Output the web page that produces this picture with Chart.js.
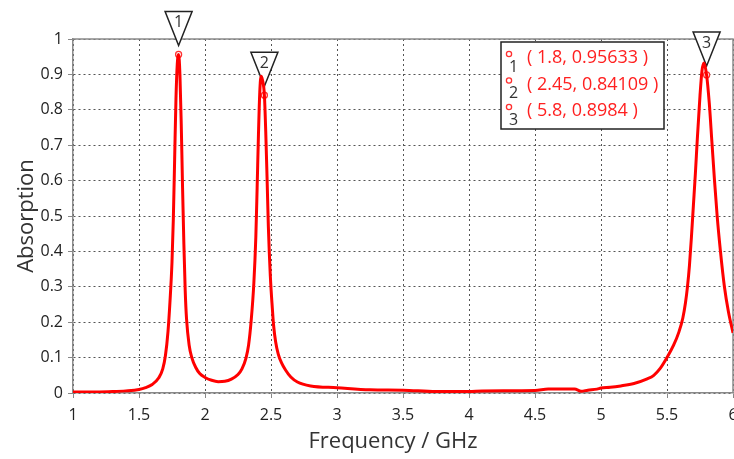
<!DOCTYPE html>
<html>
<head>
<meta charset="utf-8">
<script src="https://cdn.jsdelivr.net/npm/chart.js@4.4.1/dist/chart.umd.min.js"></script>
<style>
  html, body { margin: 0; padding: 0; background: #fff; }
  #wrap { width: 734px; height: 459px; position: relative; }
</style>
</head>
<body>
<div id="wrap"><canvas id="myChart"></canvas></div>
<script>
// absorption curve
const freq = [1.0, 1.2, 1.3, 1.4, 1.5, 1.55, 1.6, 1.65, 1.68, 1.7, 1.72, 1.735, 1.75, 1.76, 1.77, 1.78, 1.79, 1.8,
  1.81, 1.82, 1.83, 1.84, 1.85, 1.86, 1.88, 1.9, 1.93, 1.96, 2.0, 2.05, 2.1, 2.15, 2.2, 2.25, 2.28, 2.31, 2.33,
  2.35, 2.37, 2.385, 2.395, 2.405, 2.415, 2.425, 2.435, 2.45, 2.46, 2.47, 2.48, 2.495, 2.51, 2.52, 2.535, 2.555,
  2.58, 2.61, 2.65, 2.7, 2.8, 3.0, 3.25, 3.5, 3.75, 4.0, 4.1, 4.5, 4.6, 4.8, 4.85, 4.9, 4.97, 5.0, 5.07, 5.15,
  5.25, 5.35, 5.4, 5.45, 5.5, 5.55, 5.59, 5.62, 5.64, 5.655, 5.67, 5.685, 5.7, 5.715, 5.73, 5.75, 5.765, 5.78,
  5.8, 5.82, 5.84, 5.86, 5.88, 5.905, 5.935, 5.965, 6.0];
const absorption = [0.003, 0.003, 0.004, 0.006, 0.010, 0.015, 0.024, 0.043, 0.068, 0.105, 0.175, 0.26, 0.37, 0.49,
  0.66, 0.83, 0.93, 0.956, 0.90, 0.76, 0.58, 0.42, 0.29, 0.21, 0.135, 0.10, 0.072, 0.055, 0.044, 0.036, 0.032,
  0.033, 0.039, 0.052, 0.068, 0.098, 0.135, 0.205, 0.31, 0.44, 0.58, 0.73, 0.85, 0.895, 0.885, 0.841, 0.74, 0.61,
  0.47, 0.33, 0.24, 0.19, 0.145, 0.11, 0.085, 0.065, 0.045, 0.031, 0.02, 0.015, 0.009, 0.008, 0.004, 0.004,
  0.006, 0.007, 0.011, 0.011, 0.005, 0.008, 0.011, 0.014, 0.016, 0.02, 0.027, 0.04, 0.05, 0.07, 0.10, 0.135,
  0.172, 0.212, 0.255, 0.30, 0.36, 0.44, 0.53, 0.62, 0.72, 0.84, 0.91, 0.932, 0.898, 0.82, 0.71, 0.60, 0.50,
  0.40, 0.30, 0.23, 0.17];

// markers
const markerFreq = [1.8, 2.45, 5.8];
const markerAbs = [0.95633, 0.84109, 0.8984];
const markerNames = ['1', '2', '3'];

const xTitle = 'Frequency / GHz';
const yTitle = 'Absorption';
const FONT = '"Open Sans", "DejaVu Sans", sans-serif';

const extras = {
  id: 'extras',
  beforeDatasetsDraw(chart) {
    const ctx = chart.ctx;
    const a = chart.chartArea;
    const xs = chart.scales.x, ys = chart.scales.y;
    ctx.save();
    // solid frame top/right
    ctx.strokeStyle = '#8a8a8a';
    ctx.lineWidth = 1.5;
    ctx.beginPath();
    ctx.moveTo(a.left, a.top);
    ctx.lineTo(a.right, a.top);
    ctx.lineTo(a.right, a.bottom);
    ctx.stroke();
    // marker triangles
    markerFreq.forEach((f, i) => {
      const px = xs.getPixelForValue(f);
      const py = ys.getPixelForValue(markerAbs[i]) - 9;
      ctx.beginPath();
      ctx.moveTo(px, py);
      ctx.lineTo(px - 13.5, py - 34);
      ctx.lineTo(px + 13.5, py - 34);
      ctx.closePath();
      ctx.fillStyle = '#fff';
      ctx.fill();
      ctx.strokeStyle = '#222';
      ctx.lineWidth = 1.5;
      ctx.stroke();
      ctx.fillStyle = '#333';
      ctx.font = '16px ' + FONT;
      ctx.textAlign = 'center';
      ctx.textBaseline = 'middle';
      ctx.fillText(markerNames[i], px, py - 23);
    });
    ctx.restore();
  },
  afterDraw(chart) {
    const ctx = chart.ctx;
    ctx.save();
    // legend box
    ctx.fillStyle = '#fff';
    ctx.fillRect(501, 42, 163, 87);
    ctx.strokeStyle = '#222';
    ctx.lineWidth = 1.5;
    ctx.strokeRect(501, 42, 163, 87);
    markerFreq.forEach((f, i) => {
      const rowY = 58 + i * 26.5;
      ctx.beginPath();
      ctx.arc(509, rowY - 4, 2.6, 0, Math.PI * 2);
      ctx.strokeStyle = '#ff3030';
      ctx.lineWidth = 1.3;
      ctx.stroke();
      ctx.fillStyle = '#333';
      ctx.font = '16px ' + FONT;
      ctx.textAlign = 'center';
      ctx.textBaseline = 'middle';
      ctx.fillText(markerNames[i], 513.5, rowY + 9);
      ctx.fillStyle = '#ff2020';
      ctx.font = '18px ' + FONT;
      ctx.textAlign = 'left';
      ctx.fillText('( ' + f + ', ' + markerAbs[i] + ' )', 527, rowY);
    });
    // axis titles
    ctx.fillStyle = '#333';
    ctx.font = '22px ' + FONT;
    ctx.textAlign = 'center';
    ctx.textBaseline = 'alphabetic';
    ctx.fillText(xTitle, 393, 448);
    ctx.translate(33, 216);
    ctx.rotate(-Math.PI / 2);
    ctx.fillText(yTitle, 0, 0);
    ctx.restore();
  }
};

const fmt = v => String(Math.round(v * 100) / 100);

let ctx = document.querySelector('#myChart').getContext('2d');
let myChart = new Chart(ctx, {
  type: 'line',
  data: {
    datasets: [{
      label: 'Absorption',
      data: freq.map((f, i) => ({ x: f, y: absorption[i] })),
      borderColor: '#ff0000',
      borderWidth: 3,
      pointRadius: 0,
      cubicInterpolationMode: 'monotone',
      fill: false,
    }, {
      label: 'Markers',
      data: markerFreq.map((f, i) => ({ x: f, y: markerAbs[i] })),
      showLine: false,
      pointRadius: 3,
      pointBorderWidth: 1.3,
      pointBorderColor: '#ff3030',
      pointBackgroundColor: '#fff',
    }]
  },
  options: {
    responsive: true,
    maintainAspectRatio: false,
    devicePixelRatio: 1,
    animation: false,
    layout: { autoPadding: false, padding: { top: 39, right: 1, left: 0, bottom: 0 } },
    plugins: { legend: { display: false }, tooltip: { enabled: false } },
    scales: {
      x: {
        type: 'linear',
        min: 1, max: 6,
        afterFit: s => { s.height = 66; s.paddingRight = 0; s.paddingLeft = 0; },
        ticks: { stepSize: 0.5, color: '#222', padding: 8, callback: fmt, font: { family: FONT, size: 16 } },
        grid: { color: '#555', tickColor: '#888', tickLength: 5, lineWidth: 1 },
        border: { display: true, color: '#8a8a8a', width: 1.5, dash: [2, 3] },
      },
      y: {
        min: 0, max: 1,
        afterFit: s => { s.width = 73; s.paddingTop = 0; s.paddingBottom = 0; },
        ticks: { stepSize: 0.1, color: '#222', padding: 5, callback: fmt, font: { family: FONT, size: 16 } },
        grid: { color: '#555', tickColor: '#888', tickLength: 5, lineWidth: 1 },
        border: { display: true, color: '#8a8a8a', width: 1.5, dash: [2, 3] },
      }
    }
  },
  plugins: [extras]
});
</script>
</body>
</html>
